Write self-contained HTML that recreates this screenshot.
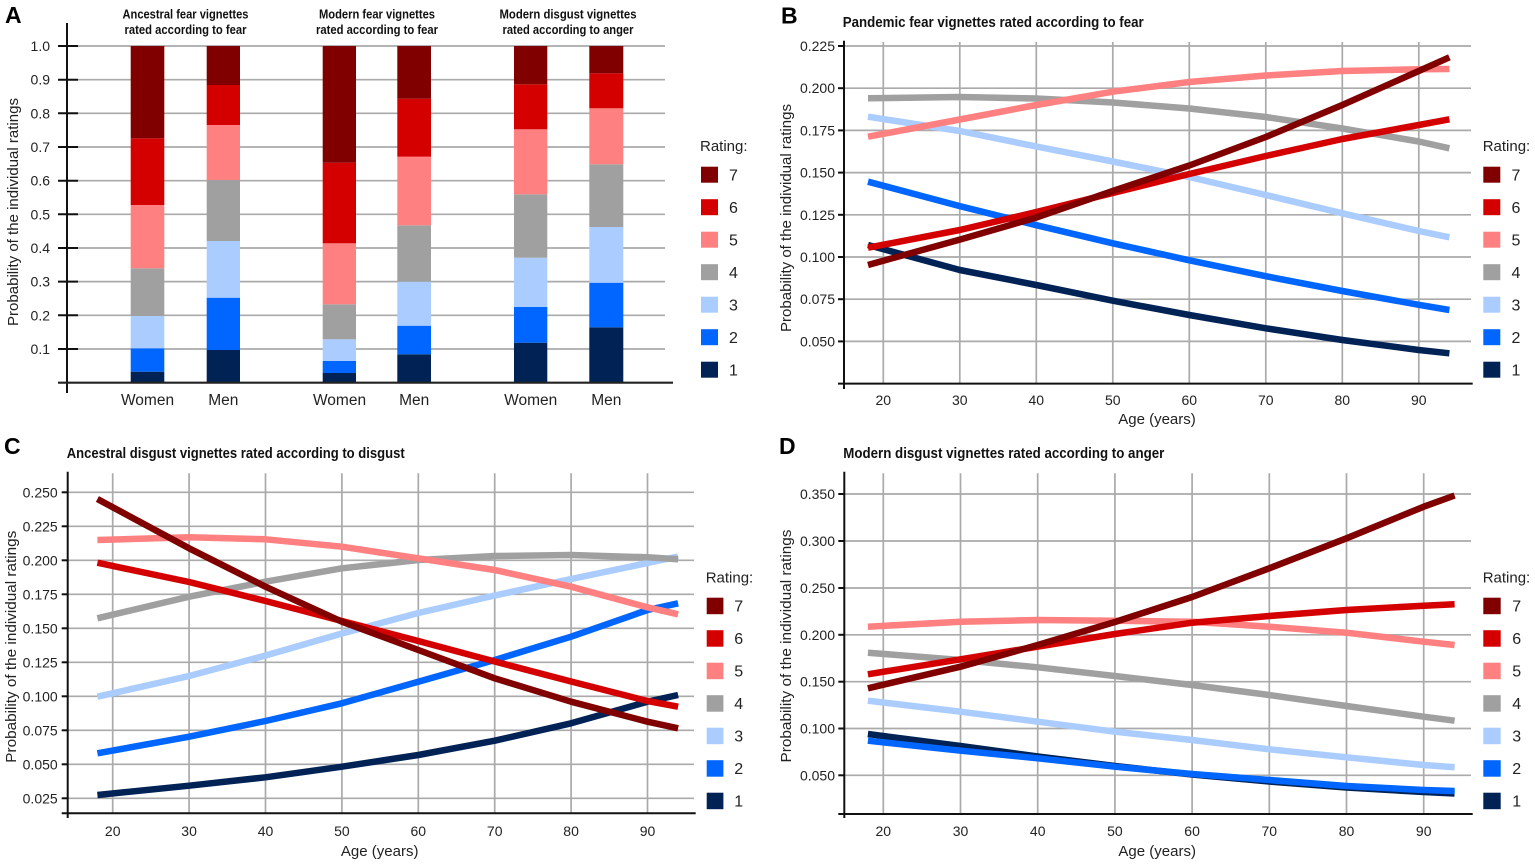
<!DOCTYPE html>
<html><head><meta charset="utf-8"><style>
html,body{margin:0;padding:0;background:#fff;}
svg{display:block;font-family:"Liberation Sans",Arial,sans-serif;}
</style></head><body>
<svg width="1535" height="864" viewBox="0 0 1535 864" xmlns="http://www.w3.org/2000/svg">
<rect width="1535" height="864" fill="#fff"/>

<!-- ============ PANEL A ============ -->
<text x="5" y="23" font-size="23" font-weight="bold" fill="#000">A</text>
<g font-size="12.5" font-weight="bold" fill="#111" text-anchor="middle">
<text x="185.5" y="18.5" textLength="126" lengthAdjust="spacingAndGlyphs">Ancestral fear vignettes</text>
<text x="185.5" y="34" textLength="122" lengthAdjust="spacingAndGlyphs">rated according to fear</text>
<text x="377" y="18.5" textLength="116" lengthAdjust="spacingAndGlyphs">Modern fear vignettes</text>
<text x="377" y="34" textLength="122" lengthAdjust="spacingAndGlyphs">rated according to fear</text>
<text x="568" y="18.5" textLength="137" lengthAdjust="spacingAndGlyphs">Modern disgust vignettes</text>
<text x="568" y="34" textLength="131" lengthAdjust="spacingAndGlyphs">rated according to anger</text>
</g>
<g stroke="#aaa" stroke-width="1.7">
<line x1="67" y1="46" x2="665" y2="46"/>
<line x1="67" y1="79.7" x2="665" y2="79.7"/>
<line x1="67" y1="113.3" x2="665" y2="113.3"/>
<line x1="67" y1="147" x2="665" y2="147"/>
<line x1="67" y1="180.7" x2="665" y2="180.7"/>
<line x1="67" y1="214.3" x2="665" y2="214.3"/>
<line x1="67" y1="248" x2="665" y2="248"/>
<line x1="67" y1="281.6" x2="665" y2="281.6"/>
<line x1="67" y1="315.3" x2="665" y2="315.3"/>
<line x1="67" y1="349" x2="665" y2="349"/>
</g>
<g stroke="#111" stroke-width="2">
<line x1="58" y1="46" x2="78" y2="46"/>
<line x1="58" y1="79.7" x2="78" y2="79.7"/>
<line x1="58" y1="113.3" x2="78" y2="113.3"/>
<line x1="58" y1="147" x2="78" y2="147"/>
<line x1="58" y1="180.7" x2="78" y2="180.7"/>
<line x1="58" y1="214.3" x2="78" y2="214.3"/>
<line x1="58" y1="248" x2="78" y2="248"/>
<line x1="58" y1="281.6" x2="78" y2="281.6"/>
<line x1="58" y1="315.3" x2="78" y2="315.3"/>
<line x1="58" y1="349" x2="78" y2="349"/>
<line x1="67" y1="23" x2="67" y2="393"/>
</g>
<g font-size="14" fill="#222" text-anchor="end">
<text x="50" y="51">1.0</text><text x="50" y="84.7">0.9</text><text x="50" y="118.3">0.8</text>
<text x="50" y="152">0.7</text><text x="50" y="185.7">0.6</text><text x="50" y="219.3">0.5</text>
<text x="50" y="253">0.4</text><text x="50" y="286.6">0.3</text><text x="50" y="320.3">0.2</text>
<text x="50" y="354">0.1</text>
</g>
<text transform="translate(18,212) rotate(-90)" font-size="15" fill="#222" text-anchor="middle" textLength="228" lengthAdjust="spacingAndGlyphs">Probability of the individual ratings</text>

<!-- bars -->
<g>
<rect x="130.7" y="371.7" width="33.6" height="11" fill="#002255"/>
<rect x="130.7" y="348.3" width="33.6" height="23.4" fill="#0066ff"/>
<rect x="130.7" y="316" width="33.6" height="32.3" fill="#aaccff"/>
<rect x="130.7" y="268.3" width="33.6" height="47.7" fill="#a0a0a0"/>
<rect x="130.7" y="205" width="33.6" height="63.3" fill="#ff8080"/>
<rect x="130.7" y="138.3" width="33.6" height="66.7" fill="#d40000"/>
<rect x="130.7" y="46" width="33.6" height="92.3" fill="#800000"/>
<rect x="206.7" y="350" width="33.3" height="32.7" fill="#002255"/>
<rect x="206.7" y="297.7" width="33.3" height="52.3" fill="#0066ff"/>
<rect x="206.7" y="241" width="33.3" height="56.7" fill="#aaccff"/>
<rect x="206.7" y="180" width="33.3" height="61" fill="#a0a0a0"/>
<rect x="206.7" y="125" width="33.3" height="55" fill="#ff8080"/>
<rect x="206.7" y="85" width="33.3" height="40" fill="#d40000"/>
<rect x="206.7" y="46" width="33.3" height="39" fill="#800000"/>
<rect x="322.7" y="373" width="33.3" height="9.7" fill="#002255"/>
<rect x="322.7" y="361" width="33.3" height="12" fill="#0066ff"/>
<rect x="322.7" y="339.3" width="33.3" height="21.7" fill="#aaccff"/>
<rect x="322.7" y="304.3" width="33.3" height="35" fill="#a0a0a0"/>
<rect x="322.7" y="243.3" width="33.3" height="61" fill="#ff8080"/>
<rect x="322.7" y="162.7" width="33.3" height="80.6" fill="#d40000"/>
<rect x="322.7" y="46" width="33.3" height="116.7" fill="#800000"/>
<rect x="397.3" y="354.3" width="33.7" height="28.4" fill="#002255"/>
<rect x="397.3" y="325.7" width="33.7" height="28.6" fill="#0066ff"/>
<rect x="397.3" y="281.7" width="33.7" height="44" fill="#aaccff"/>
<rect x="397.3" y="225.3" width="33.7" height="56.4" fill="#a0a0a0"/>
<rect x="397.3" y="156.7" width="33.7" height="68.6" fill="#ff8080"/>
<rect x="397.3" y="98.7" width="33.7" height="58" fill="#d40000"/>
<rect x="397.3" y="46" width="33.7" height="52.7" fill="#800000"/>
<rect x="514" y="342.7" width="33.3" height="40" fill="#002255"/>
<rect x="514" y="307" width="33.3" height="35.7" fill="#0066ff"/>
<rect x="514" y="257.7" width="33.3" height="49.3" fill="#aaccff"/>
<rect x="514" y="194.3" width="33.3" height="63.4" fill="#a0a0a0"/>
<rect x="514" y="129.3" width="33.3" height="65" fill="#ff8080"/>
<rect x="514" y="84.3" width="33.3" height="45" fill="#d40000"/>
<rect x="514" y="46" width="33.3" height="38.3" fill="#800000"/>
<rect x="589.3" y="327.3" width="34" height="55.4" fill="#002255"/>
<rect x="589.3" y="282.7" width="34" height="44.6" fill="#0066ff"/>
<rect x="589.3" y="227" width="34" height="55.7" fill="#aaccff"/>
<rect x="589.3" y="164.3" width="34" height="62.7" fill="#a0a0a0"/>
<rect x="589.3" y="108.3" width="34" height="56" fill="#ff8080"/>
<rect x="589.3" y="73.3" width="34" height="35" fill="#d40000"/>
<rect x="589.3" y="46" width="34" height="27.3" fill="#800000"/>
</g>
<line x1="58" y1="382.7" x2="673" y2="382.7" stroke="#222" stroke-width="2.2"/>
<g font-size="15.5" fill="#222" text-anchor="middle">
<text x="147.5" y="405">Women</text><text x="223.3" y="405">Men</text>
<text x="339.5" y="405">Women</text><text x="414.2" y="405">Men</text>
<text x="530.7" y="405">Women</text><text x="606.3" y="405">Men</text>
</g>
<text x="700" y="151" font-size="15" fill="#222">Rating:</text>
<g>
<rect x="701" y="166.7" width="17" height="16" fill="#800000"/>
<rect x="701" y="199.2" width="17" height="16" fill="#d40000"/>
<rect x="701" y="231.7" width="17" height="16" fill="#ff8080"/>
<rect x="701" y="264.2" width="17" height="16" fill="#a0a0a0"/>
<rect x="701" y="296.7" width="17" height="16" fill="#aaccff"/>
<rect x="701" y="329.2" width="17" height="16" fill="#0066ff"/>
<rect x="701" y="361.7" width="17" height="16" fill="#002255"/>
</g>
<g font-size="16" fill="#222">
<text x="729" y="180.3">7</text><text x="729" y="212.8">6</text><text x="729" y="245.3">5</text>
<text x="729" y="277.8">4</text><text x="729" y="310.3">3</text><text x="729" y="342.8">2</text>
<text x="729" y="375.3">1</text>
</g>

<!-- ============ PANEL B ============ -->
<text x="781" y="23.5" font-size="23" font-weight="bold" fill="#000">B</text>
<text x="842.7" y="27" font-size="14.5" font-weight="bold" fill="#111" textLength="301" lengthAdjust="spacingAndGlyphs">Pandemic fear vignettes rated according to fear</text>
<g stroke="#aaa" stroke-width="1.7">
<line x1="844" y1="46" x2="1471" y2="46"/>
<line x1="844" y1="88.2" x2="1471" y2="88.2"/>
<line x1="844" y1="130.4" x2="1471" y2="130.4"/>
<line x1="844" y1="172.6" x2="1471" y2="172.6"/>
<line x1="844" y1="214.8" x2="1471" y2="214.8"/>
<line x1="844" y1="257" x2="1471" y2="257"/>
<line x1="844" y1="299.2" x2="1471" y2="299.2"/>
<line x1="844" y1="341.4" x2="1471" y2="341.4"/>
<line x1="883.3" y1="42" x2="883.3" y2="383.6"/>
<line x1="959.8" y1="42" x2="959.8" y2="383.6"/>
<line x1="1036.3" y1="42" x2="1036.3" y2="383.6"/>
<line x1="1112.8" y1="42" x2="1112.8" y2="383.6"/>
<line x1="1189.3" y1="42" x2="1189.3" y2="383.6"/>
<line x1="1265.8" y1="42" x2="1265.8" y2="383.6"/>
<line x1="1342.3" y1="42" x2="1342.3" y2="383.6"/>
<line x1="1418.8" y1="42" x2="1418.8" y2="383.6"/>
</g>
<g stroke="#111" stroke-width="2">
<line x1="838" y1="46" x2="844" y2="46"/><line x1="838" y1="88.2" x2="844" y2="88.2"/>
<line x1="838" y1="130.4" x2="844" y2="130.4"/><line x1="838" y1="172.6" x2="844" y2="172.6"/>
<line x1="838" y1="214.8" x2="844" y2="214.8"/><line x1="838" y1="257" x2="844" y2="257"/>
<line x1="838" y1="299.2" x2="844" y2="299.2"/><line x1="838" y1="341.4" x2="844" y2="341.4"/>
<line x1="844" y1="40.7" x2="844" y2="389"/>
<line x1="838" y1="383.6" x2="1472.7" y2="383.6"/>
</g>
<g font-size="14" fill="#222" text-anchor="end">
<text x="835" y="51">0.225</text><text x="835" y="93.2">0.200</text><text x="835" y="135.4">0.175</text>
<text x="835" y="177.6">0.150</text><text x="835" y="219.8">0.125</text><text x="835" y="262">0.100</text>
<text x="835" y="304.2">0.075</text><text x="835" y="346.4">0.050</text>
</g>
<g font-size="14" fill="#222" text-anchor="middle">
<text x="883.3" y="405">20</text><text x="959.8" y="405">30</text><text x="1036.3" y="405">40</text>
<text x="1112.8" y="405">50</text><text x="1189.3" y="405">60</text><text x="1265.8" y="405">70</text>
<text x="1342.3" y="405">80</text><text x="1418.8" y="405">90</text>
</g>
<text x="1157" y="424" font-size="15" fill="#222" text-anchor="middle">Age (years)</text>
<text transform="translate(791,218) rotate(-90)" font-size="15" fill="#222" text-anchor="middle" textLength="228" lengthAdjust="spacingAndGlyphs">Probability of the individual ratings</text>
<g fill="none" stroke-width="6.5" stroke-linejoin="round">
<polyline stroke="#002255" points="868,245 959.8,270 1036.3,285 1112.8,300.7 1189.3,315 1265.8,328.3 1342.3,340 1418.8,350 1449.4,353.3"/>
<polyline stroke="#0066ff" points="868,181.7 959.8,206.1 1036.3,225.2 1112.8,243.3 1189.3,260.3 1265.8,276.2 1342.3,291 1418.8,304.8 1449.4,310"/>
<polyline stroke="#aaccff" points="868,116.7 959.8,131 1036.3,146.5 1112.8,161.5 1189.3,177 1265.8,195 1342.3,213.3 1418.8,231 1449.4,237.3"/>
<polyline stroke="#a0a0a0" points="868,98.3 959.8,97 1036.3,98.5 1112.8,102.5 1189.3,108.5 1265.8,117 1342.3,128.5 1418.8,141.5 1449.4,148.3"/>
<polyline stroke="#ff8080" points="868,136.7 959.8,119.5 1036.3,105 1112.8,91.7 1189.3,82 1265.8,75.5 1342.3,71 1418.8,69.2 1449.4,69"/>
<polyline stroke="#d40000" points="868,247.7 959.8,230 1036.3,212 1112.8,193 1189.3,174 1265.8,156 1342.3,139 1418.8,125 1449.4,119.3"/>
<polyline stroke="#800000" points="868,265 959.8,239.6 1036.3,217.5 1112.8,191 1189.3,165.5 1265.8,137 1342.3,105 1418.8,71 1449.4,57.3"/>
</g>
<text x="1482.7" y="151" font-size="15" fill="#222">Rating:</text>
<g>
<rect x="1483.3" y="166.7" width="17" height="16" fill="#800000"/>
<rect x="1483.3" y="199.2" width="17" height="16" fill="#d40000"/>
<rect x="1483.3" y="231.7" width="17" height="16" fill="#ff8080"/>
<rect x="1483.3" y="264.2" width="17" height="16" fill="#a0a0a0"/>
<rect x="1483.3" y="296.7" width="17" height="16" fill="#aaccff"/>
<rect x="1483.3" y="329.2" width="17" height="16" fill="#0066ff"/>
<rect x="1483.3" y="361.7" width="17" height="16" fill="#002255"/>
</g>
<g font-size="16" fill="#222">
<text x="1511.5" y="180.3">7</text><text x="1511.5" y="212.8">6</text><text x="1511.5" y="245.3">5</text>
<text x="1511.5" y="277.8">4</text><text x="1511.5" y="310.3">3</text><text x="1511.5" y="342.8">2</text>
<text x="1511.5" y="375.3">1</text>
</g>

<!-- ============ PANEL C ============ -->
<text x="4" y="454" font-size="23" font-weight="bold" fill="#000">C</text>
<text x="66.7" y="458" font-size="14.5" font-weight="bold" fill="#111" textLength="338" lengthAdjust="spacingAndGlyphs">Ancestral disgust vignettes rated according to disgust</text>
<g stroke="#aaa" stroke-width="1.7">
<line x1="67.7" y1="492.3" x2="694" y2="492.3"/>
<line x1="67.7" y1="526.3" x2="694" y2="526.3"/>
<line x1="67.7" y1="560.3" x2="694" y2="560.3"/>
<line x1="67.7" y1="594.3" x2="694" y2="594.3"/>
<line x1="67.7" y1="628.3" x2="694" y2="628.3"/>
<line x1="67.7" y1="662.3" x2="694" y2="662.3"/>
<line x1="67.7" y1="696.3" x2="694" y2="696.3"/>
<line x1="67.7" y1="730.3" x2="694" y2="730.3"/>
<line x1="67.7" y1="764.3" x2="694" y2="764.3"/>
<line x1="67.7" y1="798.3" x2="694" y2="798.3"/>
<line x1="112.7" y1="473.3" x2="112.7" y2="813.3"/>
<line x1="189.1" y1="473.3" x2="189.1" y2="813.3"/>
<line x1="265.5" y1="473.3" x2="265.5" y2="813.3"/>
<line x1="341.9" y1="473.3" x2="341.9" y2="813.3"/>
<line x1="418.3" y1="473.3" x2="418.3" y2="813.3"/>
<line x1="494.7" y1="473.3" x2="494.7" y2="813.3"/>
<line x1="571.1" y1="473.3" x2="571.1" y2="813.3"/>
<line x1="647.5" y1="473.3" x2="647.5" y2="813.3"/>
</g>
<g stroke="#111" stroke-width="2">
<line x1="61.7" y1="492.3" x2="67.7" y2="492.3"/><line x1="61.7" y1="526.3" x2="67.7" y2="526.3"/>
<line x1="61.7" y1="560.3" x2="67.7" y2="560.3"/><line x1="61.7" y1="594.3" x2="67.7" y2="594.3"/>
<line x1="61.7" y1="628.3" x2="67.7" y2="628.3"/><line x1="61.7" y1="662.3" x2="67.7" y2="662.3"/>
<line x1="61.7" y1="696.3" x2="67.7" y2="696.3"/><line x1="61.7" y1="730.3" x2="67.7" y2="730.3"/>
<line x1="61.7" y1="764.3" x2="67.7" y2="764.3"/><line x1="61.7" y1="798.3" x2="67.7" y2="798.3"/>
<line x1="67.7" y1="471.7" x2="67.7" y2="818"/>
<line x1="61.7" y1="813.3" x2="695.7" y2="813.3"/>
</g>
<g font-size="14" fill="#222" text-anchor="end">
<text x="57.7" y="497.3">0.250</text><text x="57.7" y="531.3">0.225</text><text x="57.7" y="565.3">0.200</text>
<text x="57.7" y="599.3">0.175</text><text x="57.7" y="633.3">0.150</text><text x="57.7" y="667.3">0.125</text>
<text x="57.7" y="701.3">0.100</text><text x="57.7" y="735.3">0.075</text><text x="57.7" y="769.3">0.050</text>
<text x="57.7" y="803.3">0.025</text>
</g>
<g font-size="14" fill="#222" text-anchor="middle">
<text x="112.7" y="836">20</text><text x="189.1" y="836">30</text><text x="265.5" y="836">40</text>
<text x="341.9" y="836">50</text><text x="418.3" y="836">60</text><text x="494.7" y="836">70</text>
<text x="571.1" y="836">80</text><text x="647.5" y="836">90</text>
</g>
<text x="379.7" y="856" font-size="15" fill="#222" text-anchor="middle">Age (years)</text>
<text transform="translate(16,646.7) rotate(-90)" font-size="15" fill="#222" text-anchor="middle" textLength="232" lengthAdjust="spacingAndGlyphs">Probability of the individual ratings</text>
<g fill="none" stroke-width="6.5" stroke-linejoin="round">
<polyline stroke="#002255" points="97.4,795 189.1,785.7 265.5,777.3 341.9,766.7 418.3,755 494.7,740.7 571.1,723.3 647.5,701.7 678.1,695"/>
<polyline stroke="#0066ff" points="97.4,753.3 189.1,736.7 265.5,721 341.9,703.3 418.3,681.7 494.7,660 571.1,636.7 647.5,610 678.1,603.3"/>
<polyline stroke="#aaccff" points="97.4,696.7 189.1,676 265.5,655.5 341.9,633.5 418.3,613 494.7,595.5 571.1,579 647.5,563 678.1,556.5"/>
<polyline stroke="#a0a0a0" points="97.4,618.3 189.1,596.7 265.5,581.7 341.9,568.3 418.3,560 494.7,556 571.1,555 647.5,557.3 678.1,559.3"/>
<polyline stroke="#ff8080" points="97.4,540 189.1,537.3 265.5,539.3 341.9,546.7 418.3,558.3 494.7,570 571.1,586.7 647.5,607.3 678.1,614.3"/>
<polyline stroke="#d40000" points="97.4,562.7 189.1,582 265.5,601 341.9,621 418.3,641 494.7,661.5 571.1,681.5 647.5,701 678.1,706.7"/>
<polyline stroke="#800000" points="97.4,499 189.1,548.3 265.5,586.7 341.9,621.7 418.3,650 494.7,678.3 571.1,701.7 647.5,721.7 678.1,728.3"/>
</g>
<text x="705.7" y="582.7" font-size="15" fill="#222">Rating:</text>
<g>
<rect x="706.7" y="597.7" width="16.7" height="16.5" fill="#800000"/>
<rect x="706.7" y="630.2" width="16.7" height="16.5" fill="#d40000"/>
<rect x="706.7" y="662.7" width="16.7" height="16.5" fill="#ff8080"/>
<rect x="706.7" y="695.2" width="16.7" height="16.5" fill="#a0a0a0"/>
<rect x="706.7" y="727.7" width="16.7" height="16.5" fill="#aaccff"/>
<rect x="706.7" y="760.2" width="16.7" height="16.5" fill="#0066ff"/>
<rect x="706.7" y="792.7" width="16.7" height="16.5" fill="#002255"/>
</g>
<g font-size="16" fill="#222">
<text x="734.3" y="611.5">7</text><text x="734.3" y="644">6</text><text x="734.3" y="676.5">5</text>
<text x="734.3" y="709">4</text><text x="734.3" y="741.5">3</text><text x="734.3" y="774">2</text>
<text x="734.3" y="806.5">1</text>
</g>

<!-- ============ PANEL D ============ -->
<text x="779" y="454" font-size="23" font-weight="bold" fill="#000">D</text>
<text x="843.3" y="458" font-size="14.5" font-weight="bold" fill="#111" textLength="321" lengthAdjust="spacingAndGlyphs">Modern disgust vignettes rated according to anger</text>
<g stroke="#aaa" stroke-width="1.7">
<line x1="844.3" y1="494" x2="1471" y2="494"/>
<line x1="844.3" y1="541" x2="1471" y2="541"/>
<line x1="844.3" y1="588" x2="1471" y2="588"/>
<line x1="844.3" y1="634.8" x2="1471" y2="634.8"/>
<line x1="844.3" y1="681.7" x2="1471" y2="681.7"/>
<line x1="844.3" y1="728.5" x2="1471" y2="728.5"/>
<line x1="844.3" y1="775.3" x2="1471" y2="775.3"/>
<line x1="883.3" y1="473.3" x2="883.3" y2="814"/>
<line x1="960.5" y1="473.3" x2="960.5" y2="814"/>
<line x1="1037.7" y1="473.3" x2="1037.7" y2="814"/>
<line x1="1114.9" y1="473.3" x2="1114.9" y2="814"/>
<line x1="1192.1" y1="473.3" x2="1192.1" y2="814"/>
<line x1="1269.3" y1="473.3" x2="1269.3" y2="814"/>
<line x1="1346.5" y1="473.3" x2="1346.5" y2="814"/>
<line x1="1423.7" y1="473.3" x2="1423.7" y2="814"/>
</g>
<g stroke="#111" stroke-width="2">
<line x1="838.3" y1="494" x2="844.3" y2="494"/><line x1="838.3" y1="541" x2="844.3" y2="541"/>
<line x1="838.3" y1="588" x2="844.3" y2="588"/><line x1="838.3" y1="634.8" x2="844.3" y2="634.8"/>
<line x1="838.3" y1="681.7" x2="844.3" y2="681.7"/><line x1="838.3" y1="728.5" x2="844.3" y2="728.5"/>
<line x1="838.3" y1="775.3" x2="844.3" y2="775.3"/>
<line x1="844.3" y1="471.7" x2="844.3" y2="818"/>
<line x1="838.3" y1="814" x2="1472.7" y2="814"/>
</g>
<g font-size="14" fill="#222" text-anchor="end">
<text x="835" y="499">0.350</text><text x="835" y="546">0.300</text><text x="835" y="593">0.250</text>
<text x="835" y="639.8">0.200</text><text x="835" y="686.7">0.150</text><text x="835" y="733.5">0.100</text>
<text x="835" y="780.3">0.050</text>
</g>
<g font-size="14" fill="#222" text-anchor="middle">
<text x="883.3" y="836">20</text><text x="960.5" y="836">30</text><text x="1037.7" y="836">40</text>
<text x="1114.9" y="836">50</text><text x="1192.1" y="836">60</text><text x="1269.3" y="836">70</text>
<text x="1346.5" y="836">80</text><text x="1423.7" y="836">90</text>
</g>
<text x="1157.2" y="856" font-size="15" fill="#222" text-anchor="middle">Age (years)</text>
<text transform="translate(791,646) rotate(-90)" font-size="15" fill="#222" text-anchor="middle" textLength="233" lengthAdjust="spacingAndGlyphs">Probability of the individual ratings</text>
<g fill="none" stroke-width="6.5" stroke-linejoin="round">
<polyline stroke="#002255" points="867.9,734 960.5,746 1037.7,756.5 1114.9,766 1192.1,774.5 1269.3,781.5 1346.5,787.5 1423.7,792 1454.6,793.5"/>
<polyline stroke="#0066ff" points="867.9,740.7 960.5,750.7 1037.7,758.3 1114.9,766.7 1192.1,774 1269.3,780 1346.5,786 1423.7,790 1454.6,791"/>
<polyline stroke="#aaccff" points="867.9,700.7 960.5,711.7 1037.7,721.7 1114.9,731.7 1192.1,740 1269.3,749.3 1346.5,757.3 1423.7,765 1454.6,767.3"/>
<polyline stroke="#a0a0a0" points="867.9,652.7 960.5,660 1037.7,667.3 1114.9,676 1192.1,685 1269.3,695 1346.5,706 1423.7,716.7 1454.6,720.7"/>
<polyline stroke="#ff8080" points="867.9,626.7 960.5,621.7 1037.7,620 1114.9,620.7 1192.1,621.7 1269.3,626.7 1346.5,632.7 1423.7,641.7 1454.6,645"/>
<polyline stroke="#d40000" points="867.9,674.3 960.5,659.3 1037.7,646.7 1114.9,634 1192.1,622.7 1269.3,616 1346.5,610 1423.7,605.7 1454.6,604.3"/>
<polyline stroke="#800000" points="867.9,688.3 960.5,666.7 1037.7,645 1114.9,622 1192.1,597 1269.3,568.3 1346.5,538.3 1423.7,506.7 1454.6,495.5"/>
</g>
<text x="1482.7" y="582.7" font-size="15" fill="#222">Rating:</text>
<g>
<rect x="1483.3" y="597.7" width="17.4" height="16.5" fill="#800000"/>
<rect x="1483.3" y="630.2" width="17.4" height="16.5" fill="#d40000"/>
<rect x="1483.3" y="662.7" width="17.4" height="16.5" fill="#ff8080"/>
<rect x="1483.3" y="695.2" width="17.4" height="16.5" fill="#a0a0a0"/>
<rect x="1483.3" y="727.7" width="17.4" height="16.5" fill="#aaccff"/>
<rect x="1483.3" y="760.2" width="17.4" height="16.5" fill="#0066ff"/>
<rect x="1483.3" y="792.7" width="17.4" height="16.5" fill="#002255"/>
</g>
<g font-size="16" fill="#222">
<text x="1512.3" y="611.5">7</text><text x="1512.3" y="644">6</text><text x="1512.3" y="676.5">5</text>
<text x="1512.3" y="709">4</text><text x="1512.3" y="741.5">3</text><text x="1512.3" y="774">2</text>
<text x="1512.3" y="806.5">1</text>
</g>
</svg>
</body></html>
